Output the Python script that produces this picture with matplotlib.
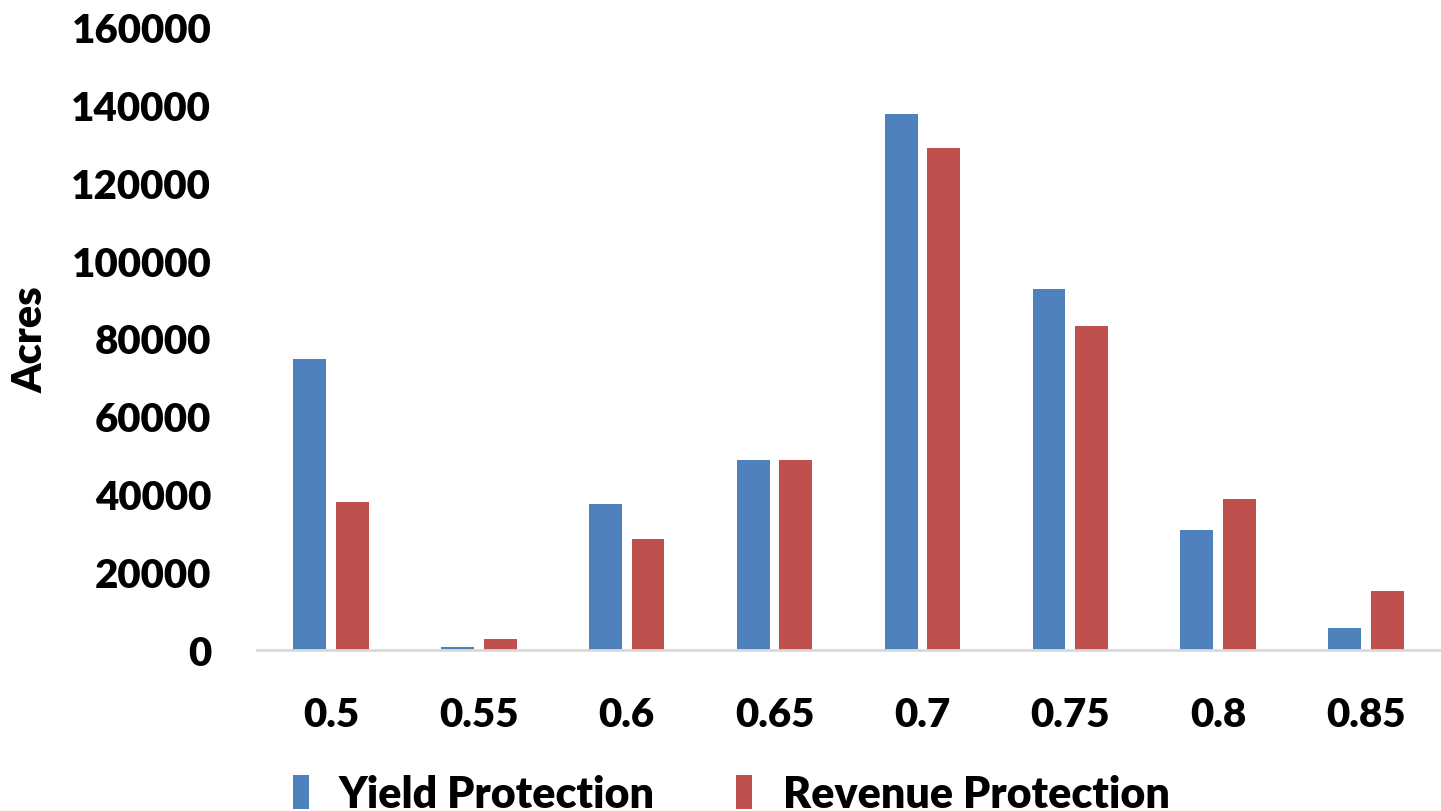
import matplotlib
matplotlib.use("Agg")
import matplotlib.pyplot as plt
import numpy as np

categories = ["0.5", "0.55", "0.6", "0.65", "0.7", "0.75", "0.8", "0.85"]
yield_protection = [74800, 700, 37600, 48700, 137700, 92800, 30700, 5700]
revenue_protection = [38100, 2800, 28400, 48900, 128800, 83300, 38900, 15100]
y_ticks = [0, 20000, 40000, 60000, 80000, 100000, 120000, 140000, 160000]

blue = "#4F81BD"
red = "#C0504D"
font = ["Lato", "DejaVu Sans"]
weight = "heavy"

fig = plt.figure(figsize=(14.41, 8.12), dpi=100)
ax = fig.add_axes([257 / 1441, 1 - 651 / 812, 1183 / 1441, (651 - 28) / 812])

x = np.arange(len(categories))
w = 0.222
off = 0.144
ax.bar(x - off, yield_protection, width=w, color=blue, label="Yield Protection")
ax.bar(x + off, revenue_protection, width=w, color=red, label="Revenue Protection")

ax.set_xlim(-0.5, len(categories) - 0.5)
ax.set_ylim(0, 160000)
ax.set_yticks(y_ticks)
ax.set_yticklabels([str(v) for v in y_ticks], fontsize=29, fontweight=weight, family=font)
ax.set_xticks(x)
ax.set_xticklabels(categories, fontsize=29, fontweight=weight, family=font)

for s in ["top", "right", "left"]:
    ax.spines[s].set_visible(False)
ax.spines["bottom"].set_color("#d9d9d9")
ax.spines["bottom"].set_linewidth(2)
ax.tick_params(axis="both", length=0)
ax.tick_params(axis="y", pad=33)
ax.tick_params(axis="x", pad=33)

ax.set_ylabel("Acres", fontsize=30, fontweight=weight, family=font)
ax.yaxis.set_label_coords(-(257 - 50) / 1183, (651 - 340) / 623)

fig.legend(loc="center", bbox_to_anchor=(731 / 1441, 1 - 795 / 812), ncol=2, frameon=False,
           prop={"family": font, "weight": weight, "size": 31},
           handlelength=0.37, handleheight=0.85, handletextpad=0.7, columnspacing=1.9)

fig.savefig("out.png", dpi=100)
